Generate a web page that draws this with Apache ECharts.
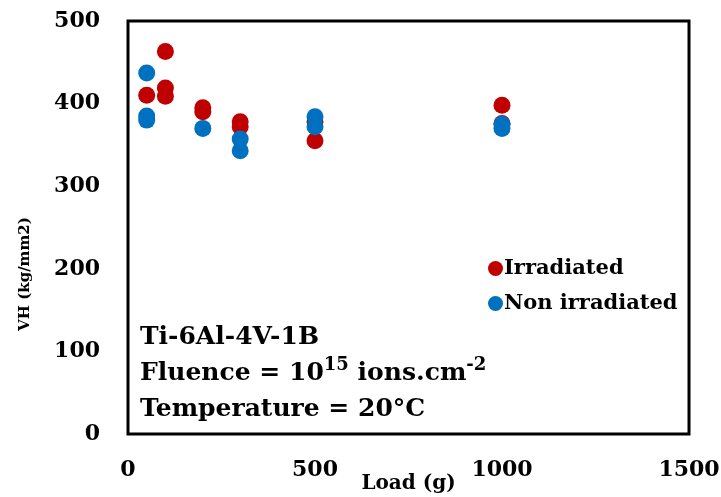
<!DOCTYPE html>
<html>
<head>
<meta charset="utf-8">
<script src="https://cdn.jsdelivr.net/npm/echarts@6/dist/echarts.min.js"></script>
<style>
  html, body { margin: 0; padding: 0; background: #fff; }
  #chart { width: 721px; height: 497px; }
</style>
</head>
<body>
<div id="chart"></div>
<script>
// Irradiated
const irrLoad = [50, 100, 100, 100, 200, 200, 300, 300, 500, 500, 1000, 1000]
const irrVH = [410, 463, 419, 409, 395, 390, 378, 372, 378, 355, 398, 376]
// Non irradiated
const nonLoad = [50, 50, 50, 200, 300, 300, 500, 500, 1000, 1000]
const nonVH = [437, 385, 380, 370, 357, 343, 384, 372, 375, 370]

const xTicks = [0, 500, 1000, 1500]
const yTicks = [0, 100, 200, 300, 400, 500]

const FONT = 'DejaVu Serif'
const pairs = (xs, ys) => xs.map((x, i) => [x, ys[i]])

const chart = echarts.init(document.getElementById('chart'))
const option = {
  animation: false,
  grid: {
    left: 128, top: 21, right: 32, bottom: 63,
    containLabel: false, outerBoundsMode: 'none',
    show: true, borderColor: '#000', borderWidth: 3
  },
  xAxis: {
    type: 'value',
    min: xTicks[0], max: xTicks[xTicks.length - 1], interval: 500,
    name: 'Load (g)', nameLocation: 'middle', nameGap: 40, nameMoveOverlap: false,
    nameTextStyle: { fontFamily: FONT, fontWeight: 'bold', fontSize: 20, color: '#000' },
    axisLine: { show: false },
    axisTick: { show: false },
    splitLine: { show: false },
    axisLabel: {
      margin: 25, fontFamily: FONT, fontWeight: 'bold', fontSize: 22, color: '#000',
      formatter: v => String(v)
    }
  },
  yAxis: {
    type: 'value',
    min: yTicks[0], max: yTicks[yTicks.length - 1], interval: 100,
    axisLine: { show: false },
    axisTick: { show: false },
    splitLine: { show: false },
    axisLabel: { margin: 28, fontFamily: FONT, fontWeight: 'bold', fontSize: 22, color: '#000' }
  },
  legend: {
    orient: 'vertical',
    left: 483, top: 253,
    itemWidth: 15, itemHeight: 15, itemGap: 14,
    icon: 'circle',
    textStyle: { fontFamily: FONT, fontWeight: 'bold', fontSize: 21, color: '#000', padding: [0, 0, 0, -4] },
    data: ['Irradiated', 'Non irradiated']
  },
  graphic: [
    {
      type: 'text', x: 25, y: 274, rotation: Math.PI / 2,
      style: {
        text: 'VH (kg/mm2)', fill: '#000',
        font: 'bold 15px "DejaVu Serif"', align: 'center', verticalAlign: 'middle'
      }
    },
    {
      type: 'text', left: 140, top: 319,
      style: {
        text: 'Ti-6Al-4V-1B\nFluence = 10{sup|15} ions.cm{sup|-2}\nTemperature = 20°C',
        fill: '#000', font: 'bold 25px "DejaVu Serif"', lineHeight: 36,
        rich: {
          sup: {
            fontFamily: FONT, fontWeight: 'bold', fontSize: 18,
            lineHeight: 16, padding: [0, 0, 16, 0]
          }
        }
      }
    }
  ],
  series: [
    {
      name: 'Irradiated', type: 'scatter', symbolSize: 17,
      itemStyle: { color: '#C00000', opacity: 1 },
      data: pairs(irrLoad, irrVH)
    },
    {
      name: 'Non irradiated', type: 'scatter', symbolSize: 17,
      itemStyle: { color: '#0070C0', opacity: 1 },
      data: pairs(nonLoad, nonVH)
    }
  ]
}
chart.setOption(option)
</script>
</body>
</html>
